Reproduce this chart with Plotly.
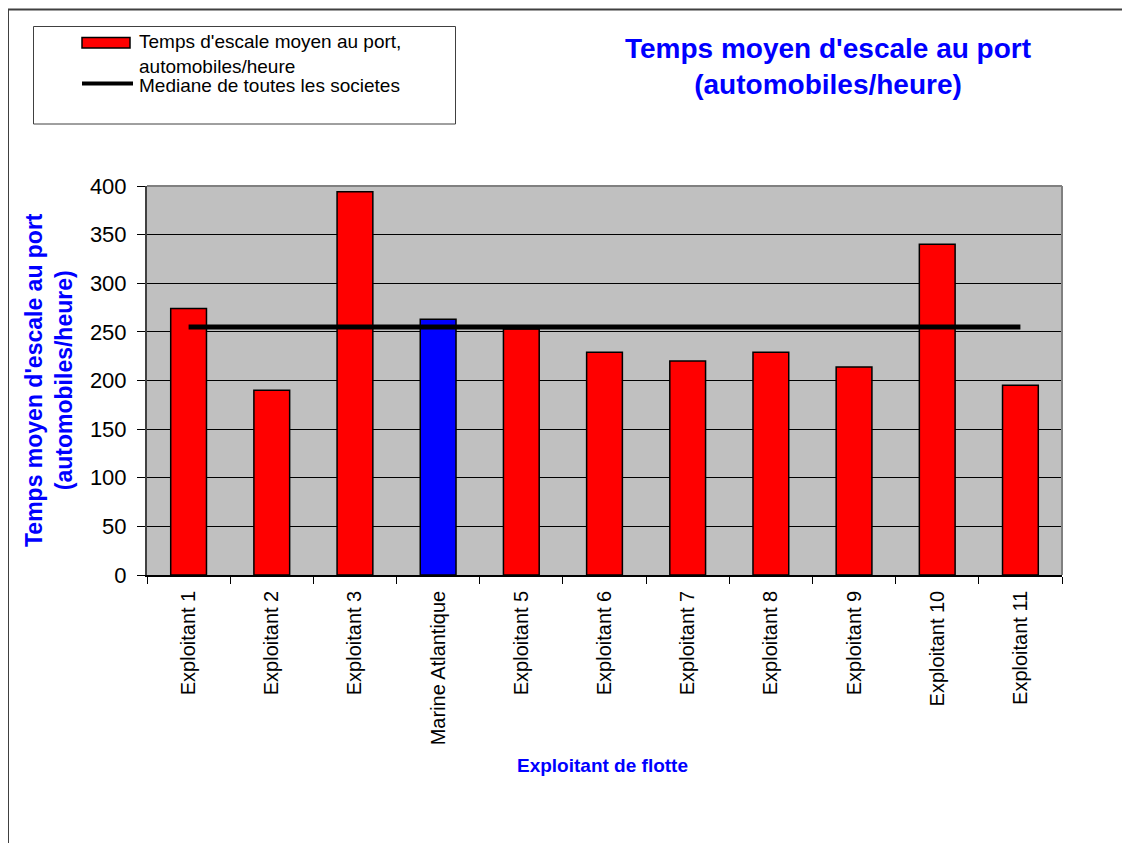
import plotly.graph_objects as go

categories = ["Exploitant 1", "Exploitant 2", "Exploitant 3", "Marine Atlantique",
              "Exploitant 5", "Exploitant 6", "Exploitant 7", "Exploitant 8",
              "Exploitant 9", "Exploitant 10", "Exploitant 11"]
temps_escale = [274, 190, 394, 263, 253, 229, 220, 229, 214, 340, 195]
mediane = [255, 255, 255, 255, 255, 255, 255, 255, 255, 255, 255]
bar_colors = ["#FF0000", "#FF0000", "#FF0000", "#0000FF", "#FF0000", "#FF0000",
              "#FF0000", "#FF0000", "#FF0000", "#FF0000", "#FF0000"]
y_ticks = [0, 50, 100, 150, 200, 250, 300, 350, 400]

FONT = "Liberation Sans, Arial, sans-serif"
W, H = 1130, 843
OFF = 8  # page body margin
L, T = 147 - OFF, 186 - OFF
PW, PH = 915, 389
R = W - L - PW
B = H - T - PH


def px(x):
    return (x - OFF - L) / PW


def py(y):
    return (T + PH - (y - OFF)) / PH


fig = go.Figure()
fig.add_trace(go.Bar(
    x=categories, y=temps_escale,
    marker=dict(color=bar_colors, line=dict(color="black", width=1.5)),
    name="Temps d'escale moyen au port, automobiles/heure",
    showlegend=False,
))
fig.add_trace(go.Scatter(
    x=categories, y=mediane, mode="lines",
    line=dict(color="black", width=5),
    name="Mediane de toutes les societes",
    showlegend=False,
))

shapes = [
    # outer chart border (top and left visible)
    dict(type="line", xref="paper", yref="paper", x0=px(8), x1=px(1140), y0=py(9.5), y1=py(9.5),
         line=dict(color="#404040", width=2)),
    dict(type="line", xref="paper", yref="paper", x0=px(8), x1=px(8), y0=py(9.5), y1=py(860),
         line=dict(color="#404040", width=2)),
    # plot area top/right border
    dict(type="line", xref="paper", yref="paper", x0=0, x1=1, y0=1, y1=1,
         line=dict(color="#808080", width=2)),
    dict(type="line", xref="paper", yref="paper", x0=1, x1=1, y0=0, y1=1,
         line=dict(color="#808080", width=2)),
    # legend box
    dict(type="rect", xref="paper", yref="paper", x0=px(33.5), x1=px(455.5), y0=py(26.5), y1=py(124),
         line=dict(color="#404040", width=1), fillcolor="white"),
    dict(type="rect", xref="paper", yref="paper", x0=px(82), x1=px(130), y0=py(37.5), y1=py(48),
         line=dict(color="black", width=1.5), fillcolor="#FF0000"),
    dict(type="line", xref="paper", yref="paper", x0=px(82), x1=px(133), y0=py(83.5), y1=py(83.5),
         line=dict(color="black", width=4)),
]

annotations = [
    dict(text="Temps moyen d'escale au port<br>(automobiles/heure)", xref="paper", yref="paper",
         x=px(827.5), y=py(66), xanchor="center", yanchor="middle", showarrow=False,
         font=dict(family=FONT, size=28, color="#0000FF", weight="bold")),
    dict(text="Temps moyen d'escale au port<br>(automobiles/heure)", xref="paper", yref="paper",
         x=px(49), y=py(380), xanchor="center", yanchor="middle", showarrow=False, textangle=-90,
         font=dict(family=FONT, size=23, color="#0000FF", weight="bold")),
    dict(text="Exploitant de flotte", xref="paper", yref="paper",
         x=px(602.5), y=py(765), xanchor="center", yanchor="middle", showarrow=False,
         font=dict(family=FONT, size=19, color="#0000FF", weight="bold")),
    dict(text="Temps d'escale moyen au port,<br>automobiles/heure", xref="paper", yref="paper",
         x=px(137), y=py(54.5), xanchor="left", yanchor="middle", showarrow=False, align="left",
         font=dict(family=FONT, size=19, color="black")),
    dict(text="Mediane de toutes les societes", xref="paper", yref="paper",
         x=px(137), y=py(85.5), xanchor="left", yanchor="middle", showarrow=False, align="left",
         font=dict(family=FONT, size=19, color="black")),
]

fig.update_layout(
    width=W, height=H,
    margin=dict(l=L, r=R, t=T, b=B, autoexpand=False),
    paper_bgcolor="white", plot_bgcolor="#C0C0C0",
    bargap=0.57,
    showlegend=False,
    shapes=shapes,
    annotations=annotations,
    font=dict(family=FONT, color="black"),
)
fig.update_xaxes(
    type="category", tickangle=-90, tickson="boundaries", ticks="outside", ticklen=7,
    tickcolor="black", showline=True, linecolor="black", linewidth=1.5,
    showgrid=False, tickfont=dict(family=FONT, size=20, color="black"),
    ticklabelstandoff=6, automargin=False,
)
fig.update_yaxes(
    range=[0, 400], tickvals=y_ticks, ticks="outside", ticklen=8, tickcolor="black",
    showline=True, linecolor="#404040", linewidth=2, zeroline=False,
    showgrid=True, gridcolor="black", gridwidth=1,
    tickfont=dict(family=FONT, size=22, color="black"), ticklabelstandoff=6, automargin=False,
)

fig.write_html("out.html")
